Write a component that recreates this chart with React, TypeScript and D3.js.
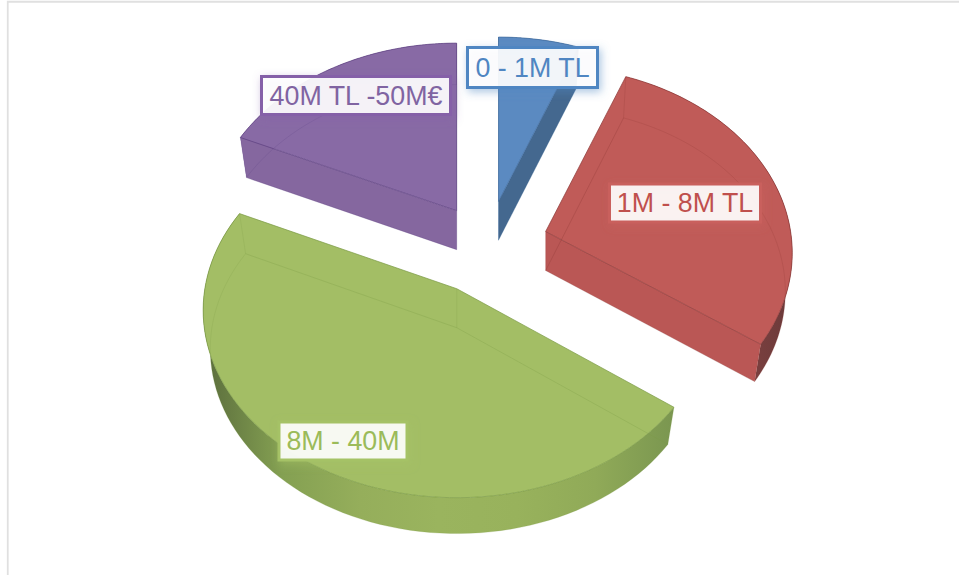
import React from "react";
import * as d3 from "d3";

// Revenue bands and their shares of the pie
const categories = ["0 - 1M TL", "1M - 8M TL", "8M - 40M", "40M TL -50M€"];
const shares = [5.9, 28.8, 47.5, 17.8];
const explosion = [0.3, 0.26, 0.22, 0.27];

const topColors = ["#5b8ac1", "#c05b58", "#a3be65", "#886aa5"];
const edgeColors = ["#3d6a9c", "#8a3634", "#7b9a45", "#5c4080"];
const cutColors = ["#44688f", "#ba5755", "#9cb75e", "#85679f"];
const rimStops: string[][] = [
  ["#44688f", "#44688f"],
  ["#b05250", "#6a3a3a"],
  ["#5a6c3c", "#84a052", "#95ae5b", "#9ab45e", "#98b25c", "#90aa58", "#7a9650"],
  ["#84669f", "#84669f"],
];
const labelBorders = ["#4f86c2", "#c9605d", "#a5c266", "#8560a8"];
const labelText = ["#4f86c2", "#c0504d", "#9bbb59", "#8064a2"];

// Per-slice fine placement: apex shift in px and rim stretch along x and y
const apexShift: [number, number][] = [
  [1, 1],
  [0, -4],
  [3, 1],
  [4.5, 0],
];
const rimStretch: [number, number][] = [
  [0.97, 0.995],
  [0.972, 1.0],
  [1.0, 1.005],
  [0.985, 1.015],
];
// Small start/end corrections, in radians, where the camera skews a cut edge
const edgeTrim: [number, number][] = [
  [0, 0],
  [0, 0],
  [0.03, -0.012],
  [-0.03, 0],
];

// Label boxes: centre x, centre y, width, height
const labelBoxes: [number, number, number, number][] = [
  [532.5, 67.5, 130, 40],
  [685, 203, 151, 38],
  [343, 441, 128, 38],
  [356, 95.5, 189, 38],
];

const WIDTH = 959;
const HEIGHT = 575;
const centerX = 485;
const centerY = 249;
const radiusX = 252;
const radiusY = 184;
const perspective = 0.115;
const thickness = 39;
const baseShrinkX = 0.972;
const baseShrinkY = 0.985;

type Pt = [number, number];

const arcs = d3.pie<number>().sort(null).value((d) => d)(shares);

function apexOf(i: number): Pt {
  const mid = (arcs[i].startAngle + arcs[i].endAngle) / 2;
  const q = 1 / (1 + perspective * Math.cos(mid));
  return [
    centerX + explosion[i] * Math.sin(mid) * radiusX * q + apexShift[i][0],
    centerY - explosion[i] * Math.cos(mid) * radiusY * q + apexShift[i][1],
  ];
}

function rimPoint(i: number, apex: Pt, a: number): Pt {
  const v = -Math.cos(a);
  const p = 1 / (1 - perspective * v);
  return [
    apex[0] + radiusX * rimStretch[i][0] * Math.sin(a) * p,
    apex[1] + radiusY * rimStretch[i][1] * v * p,
  ];
}

function toBase(apex: Pt, pt: Pt): Pt {
  return [
    apex[0] + (pt[0] - apex[0]) * baseShrinkX,
    apex[1] + thickness + (pt[1] - apex[1]) * baseShrinkY,
  ];
}

const line = d3.line<Pt>();

function Slice({ i }: { i: number }) {
  const apex = apexOf(i);
  const startAngle = arcs[i].startAngle + edgeTrim[i][0];
  const endAngle = arcs[i].endAngle + edgeTrim[i][1];
  const step = (endAngle - startAngle) / 80;
  const angles = d3.range(0, 81).map((k) => startAngle + k * step);
  const top = angles.map((a) => rimPoint(i, apex, a));
  const base = top.map((p) => toBase(apex, p));
  const baseApex = toBase(apex, apex);
  const first = top[0];
  const last = top[top.length - 1];
  const baseFirst = base[0];
  const baseLast = base[base.length - 1];

  // A cut face is only painted when its outward normal points at the viewer
  const faces: Pt[][] = [];
  if (-Math.sin(startAngle) > 0.01) faces.push([apex, first, baseFirst, baseApex]);
  if (Math.sin(endAngle) > 0.01) faces.push([apex, last, baseLast, baseApex]);

  const xs = top.map((p) => p[0]);
  const gradId = `rim-${i}`;
  const stops = rimStops[i];

  return (
    <g>
      <defs>
        <linearGradient
          id={gradId}
          gradientUnits="userSpaceOnUse"
          x1={d3.min(xs)}
          x2={d3.max(xs)}
          y1={0}
          y2={0}
        >
          {stops.map((c, k) => (
            <stop key={k} offset={k / (stops.length - 1)} stopColor={c} />
          ))}
        </linearGradient>
      </defs>
      {/* outer wall */}
      <path d={line([...top, ...[...base].reverse()]) + "Z"} fill={`url(#${gradId})`} />
      {/* cut faces */}
      {faces.map((f, k) => (
        <path key={k} d={line(f) + "Z"} fill={cutColors[i]} />
      ))}
      {/* top surface */}
      <path d={line([apex, ...top]) + "Z"} fill={topColors[i]} />
      {/* hidden base edges showing through the glassy body */}
      <path
        d={line(base)}
        fill="none"
        stroke={edgeColors[i]}
        strokeOpacity={0.2}
        strokeWidth={1}
      />
      <path
        d={line([baseFirst, baseApex, baseLast])}
        fill="none"
        stroke={edgeColors[i]}
        strokeOpacity={0.28}
        strokeWidth={1}
      />
      {[[first, baseFirst], [apex, baseApex], [last, baseLast]].map((seg, k) => (
        <path
          key={k}
          d={line(seg as Pt[])}
          fill="none"
          stroke={edgeColors[i]}
          strokeOpacity={0.2}
          strokeWidth={1}
        />
      ))}
      {/* top outline */}
      <path
        d={line([apex, ...top]) + "Z"}
        fill="none"
        stroke={edgeColors[i]}
        strokeOpacity={0.7}
        strokeWidth={1}
      />
    </g>
  );
}

function Label({ i }: { i: number }) {
  const [cx, cy, w, h] = labelBoxes[i];
  return (
    <g>
      <filter id={`shadow-${i}`} x="-30%" y="-50%" width="160%" height="220%">
        <feDropShadow
          dx={2}
          dy={3}
          stdDeviation={4}
          floodColor={labelBorders[i]}
          floodOpacity={0.5}
        />
      </filter>
      <rect
        x={cx - w / 2}
        y={cy - h / 2}
        width={w}
        height={h}
        fill="#ffffff"
        fillOpacity={0.9}
        stroke={labelBorders[i]}
        strokeWidth={3}
        filter={`url(#shadow-${i})`}
      />
      <text
        x={cx}
        y={cy}
        dy="0.35em"
        textAnchor="middle"
        fontFamily="'Liberation Sans', Arial, sans-serif"
        fontSize={26.8}
        fill={labelText[i]}
      >
        {categories[i]}
      </text>
    </g>
  );
}

export default function App() {
  return (
    <svg
      width={WIDTH}
      height={HEIGHT}
      style={{ position: "absolute", left: 0, top: 0, background: "#ffffff" }}
    >
      <path d={`M7.75,${HEIGHT}V1.75H${WIDTH}`} fill="none" stroke="#e0e0e0" strokeWidth={1.8} />
      {categories.map((_, i) => (
        <Slice key={i} i={i} />
      ))}
      {categories.map((_, i) => (
        <Label key={i} i={i} />
      ))}
    </svg>
  );
}
